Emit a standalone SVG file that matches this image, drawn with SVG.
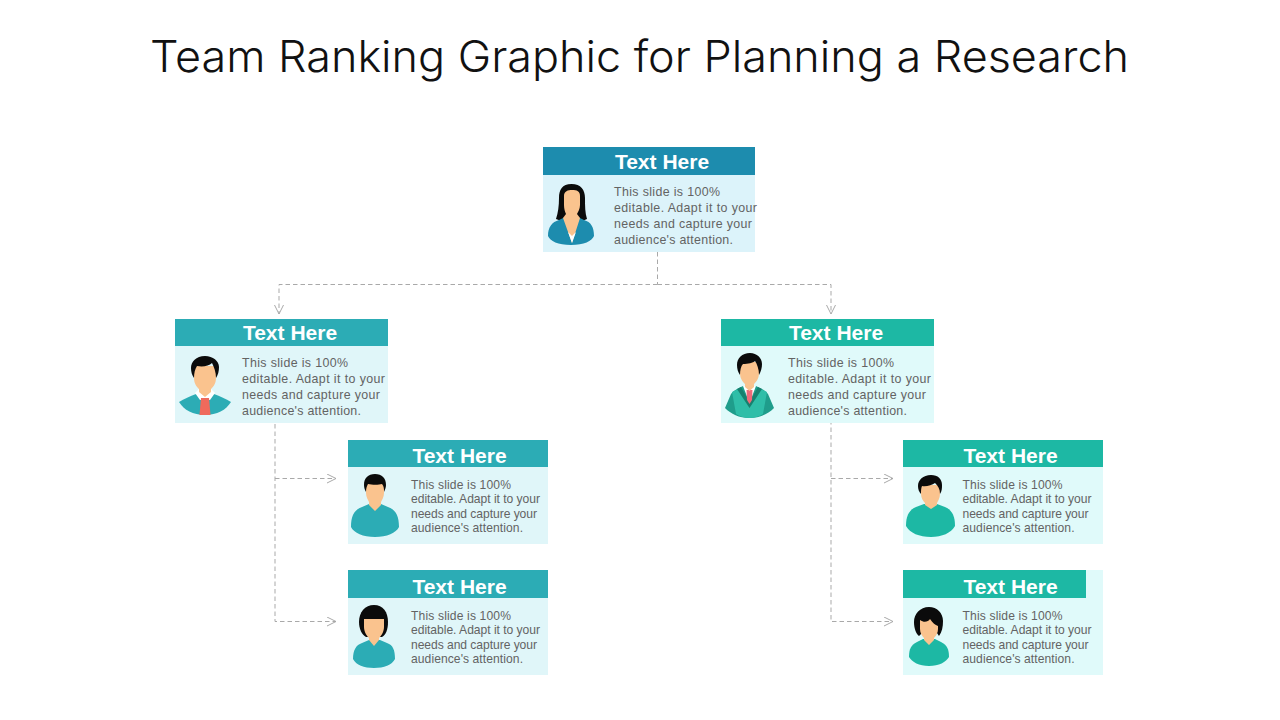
<svg xmlns="http://www.w3.org/2000/svg" width="1280" height="720" viewBox="0 0 1280 720">
<defs>
<marker id="arr" markerWidth="12" markerHeight="12" refX="9.5" refY="5" orient="auto" markerUnits="userSpaceOnUse"><path d="M0.5 0.5L9.5 5L0.500 9.500" fill="none" stroke="#a9a9a9" stroke-width="1"/></marker>
</defs>
<style>
.title{font-family:Inter,"Liberation Sans",sans-serif;font-size:44px;font-weight:300;fill:#111}
.h{font-family:"Liberation Sans",Arial,sans-serif;font-size:21px;font-weight:700;fill:#fff;text-anchor:middle}
.b{font-family:"Liberation Sans",Arial,sans-serif;font-size:12.4px;fill:#636363}
.s{font-family:"Liberation Sans",Arial,sans-serif;font-size:12.1px;fill:#636363}
.c{fill:none;stroke:#a9a9a9;stroke-width:1;stroke-dasharray:4.5 3}
.skin{fill:#fac38e}.hair{fill:#0b0b0b}
</style>
<rect width="1280" height="720" fill="#fff"/>
<text class="title" x="150" y="72" textLength="979" lengthAdjust="spacingAndGlyphs">Team Ranking Graphic for Planning a Research</text>

<g id="connectors">
<path class="c" d="M657.500 252V284.500"/>
<path class="c" d="M657.500 284.500H279V314" marker-end="url(#arr)"/>
<path class="c" d="M657.500 284.500H831V314" marker-end="url(#arr)"/>
<path class="c" d="M275 424V621.500H336" marker-end="url(#arr)"/>
<path class="c" d="M275 478.500H336" marker-end="url(#arr)"/>
<path class="c" d="M831 420V621.500H893" marker-end="url(#arr)"/>
<path class="c" d="M831 478.500H893" marker-end="url(#arr)"/>
</g>

<g id="node-top">
<rect x="543" y="147" width="212" height="105" fill="#dcf3fa"/>
<rect x="543" y="147" width="212" height="28" fill="#1d8cae"/>
<text class="h" x="662" y="169">Text Here</text>
<path class="hair" d="M571.500 184C562 184 559 190 559 198C559 206 558 213 556 219L564 222H580L587 219C585 213 585 206 585 198C585 190 581 184 571.500 184Z"/>
<path d="M548 236C548 227 552 222 559 220L565 217H578L584 220C591 222 594 227 594 236C592 241 584 245 571 245C558 245 550 241 548 236Z" fill="#1d8cae"/>
<path class="skin" d="M564 196C564 191 568 190 572 190C577 190 580 191 580 196V205C580 209 578 212 577 214L580 218L572 243L563 218L566 214C565 212 564 209 564 205Z"/>
<path d="M568 232L572 243L576 232L572 236Z" fill="#fff"/>
<text class="b" x="614" y="195.500" textLength="106">This slide is 100%</text>
<text class="b" x="614" y="211.500" textLength="143">editable. Adapt it to your</text>
<text class="b" x="614" y="227.500" textLength="138">needs and capture your</text>
<text class="b" x="614" y="243.500" textLength="119">audience's attention.</text>
</g>

<g id="node-left">
<rect x="175" y="319" width="213" height="104" fill="#e0f6f9"/>
<rect x="175" y="319" width="213" height="27" fill="#2cacb5"/>
<text class="h" x="290" y="340">Text Here</text>
<path d="M179 402C184 399 190 396 196 394H214C220 396 226 399 231 402C226 410 217 415 205 415C193 415 184 410 179 402Z" fill="#2cacb5"/>
<path d="M195 393L199 389H211L215 393L210 400H200Z" fill="#fff"/>
<path d="M201 398H209L210.500 415H199.500Z" fill="#ef6a5c"/>
<path class="skin" d="M194 366H216V378C216 384 213 387 211 389V392L205 397L199 392V389C197 387 194 384 194 378Z"/>
<path class="hair" d="M205 356C196 356 191 362 191 368C191 372 192 375 194 378C194 373 195 369 197 366C203 367 209 366 212 363C214 367 216 372 216 378C218 375 219 371 219 367C219 361 213 356 205 356Z"/>
<text class="b" x="242" y="366.500" textLength="106">This slide is 100%</text>
<text class="b" x="242" y="382.500" textLength="143">editable. Adapt it to your</text>
<text class="b" x="242" y="398.500" textLength="138">needs and capture your</text>
<text class="b" x="242" y="414.500" textLength="119">audience's attention.</text>
</g>

<g id="node-right">
<rect x="721" y="319" width="213" height="104" fill="#e0fafa"/>
<rect x="721" y="319" width="213" height="27" fill="#1db8a4"/>
<text class="h" x="836" y="340">Text Here</text>
<path d="M725 408L731 394C734 390 739 388 743 386H756C760 388 765 390 768 394L774 408C768 414 760 418 749.500 418C739 418 731 414 725 408Z" fill="#1f9d8b"/>
<path d="M732 392L738 389L749.500 406L761 389L767 392L763 414C760 416 755 418 749.500 418C744 418 739 416 736 414Z" fill="#2fbea8"/>
<path d="M741 387L749.500 402L758 387L762 389L749.500 408L737 389Z" fill="#17806f"/>
<path d="M743 386H756L749.500 403Z" fill="#fff"/>
<path d="M746.500 390H752.500L752 400L749.500 404L747 400Z" fill="#ef6a7a"/>
<path class="skin" d="M740 362H759V373C759 379 756 382 754 384V387L749.500 391L745 387V384C743 382 740 379 740 373Z"/>
<path class="hair" d="M750 353C742 353 737 358 737 365C737 369 738 372 740 375C740 370 741 366 743 364C748 364 753 363 755 361C757 364 759 369 759 375C761 371 762 368 762 364C762 358 757 353 750 353Z"/>
<text class="b" x="788" y="366.500" textLength="106">This slide is 100%</text>
<text class="b" x="788" y="382.500" textLength="143">editable. Adapt it to your</text>
<text class="b" x="788" y="398.500" textLength="138">needs and capture your</text>
<text class="b" x="788" y="414.500" textLength="119">audience's attention.</text>
</g>

<g id="node-left-1">
<rect x="348" y="440" width="200" height="104" fill="#e0f6f9"/>
<rect x="348" y="440" width="200" height="27" fill="#2cacb5"/>
<text class="h" x="459.500" y="463">Text Here</text>
<path d="M351 527C351 516 354 510 362 507L369 504H381L388 507C396 510 399 516 399 527C396 533 387 537 375 537C363 537 354 533 351 527Z" fill="#2cacb5"/>
<path class="skin" d="M366 484H384V493C384 497 382 500 381 502V505L375 511L369 505V502C368 500 366 497 366 493Z"/>
<path class="hair" d="M375 474C368 474 364 478 364 485C364 488 365 490 366 492C366 488 367 486 368 484C372 485 379 485 382 484C384 486 384 489 384 492C385 490 386 487 386 485C386 478 382 474 375 474Z"/>
<text class="s" x="411" y="489" textLength="100">This slide is 100%</text>
<text class="s" x="411" y="503" textLength="129">editable. Adapt it to your</text>
<text class="s" x="411" y="517.500" textLength="126">needs and capture your</text>
<text class="s" x="411" y="532" textLength="112">audience's attention.</text>
</g>

<g id="node-left-2">
<rect x="348" y="570" width="200" height="105" fill="#e0f6f9"/>
<rect x="348" y="570" width="200" height="28" fill="#2cacb5"/>
<text class="h" x="459.500" y="593.500">Text Here</text>
<path d="M353 659C353 650 356 645 362 643L369 640H380L387 643C393 645 395 650 395 659C392 665 384 668 374 668C364 668 356 665 353 659Z" fill="#2cacb5"/>
<path class="hair" d="M374 605C365 605 359 612 359 622C359 629 362 635 366 637H382C386 635 388 629 388 622C388 612 383 605 374 605Z"/>
<path class="skin" d="M364 619H384V627C384 632 381 636 379 638V640L374 646L369 640V638C367 636 364 632 364 627Z"/>
<text class="s" x="411" y="620" textLength="100">This slide is 100%</text>
<text class="s" x="411" y="634" textLength="129">editable. Adapt it to your</text>
<text class="s" x="411" y="648.500" textLength="126">needs and capture your</text>
<text class="s" x="411" y="663" textLength="112">audience's attention.</text>
</g>

<g id="node-right-1">
<rect x="903" y="440" width="200" height="104" fill="#e0fafa"/>
<rect x="903" y="440" width="200" height="27" fill="#1db8a4"/>
<text class="h" x="1010.500" y="463">Text Here</text>
<path d="M906 526C906 516 909 510 916 507L924 504H937L945 507C952 510 955 516 955 526C951 533 942 537 931 537C919 537 910 533 906 526Z" fill="#1db8a4"/>
<path class="skin" d="M921 485H940V494C940 498 938 501 937 503V505L931 509L925 505V503C923 501 921 498 921 494Z"/>
<path class="hair" d="M931 475C923 475 918 480 918 486C918 489 919 492 921 494C921 491 921 488 922 486C926 487 932 485 935 483C938 486 940 489 940 494C942 491 942 488 942 485C942 479 938 475 931 475Z"/>
<text class="s" x="962.500" y="489" textLength="100">This slide is 100%</text>
<text class="s" x="962.500" y="503" textLength="129">editable. Adapt it to your</text>
<text class="s" x="962.500" y="517.500" textLength="126">needs and capture your</text>
<text class="s" x="962.500" y="532" textLength="112">audience's attention.</text>
</g>

<g id="node-right-2">
<rect x="903" y="570" width="200" height="105" fill="#e0fafa"/>
<rect x="903" y="570" width="183" height="28" fill="#1db8a4"/>
<text class="h" x="1010.500" y="593.500">Text Here</text>
<path d="M909 657C909 649 911 645 917 642L923 639H935L941 642C947 645 949 649 949 657C946 662 939 666 929 666C919 666 912 662 909 657Z" fill="#1db8a4"/>
<path class="hair" d="M929 607C920 607 914 614 914 622C914 628 916 634 919 636L925 630H935L939 636C942 632 943 627 943 621C943 613 937 607 929 607Z"/>
<path class="skin" d="M920 620C924 623 928 622 930 619C933 623 935 625 938 626V629C938 633 936 636 934 638V640L929 645L924 640V638C922 636 920 633 920 629Z"/>
<text class="s" x="962.500" y="620" textLength="100">This slide is 100%</text>
<text class="s" x="962.500" y="634" textLength="129">editable. Adapt it to your</text>
<text class="s" x="962.500" y="648.500" textLength="126">needs and capture your</text>
<text class="s" x="962.500" y="663" textLength="112">audience's attention.</text>
</g>
</svg>
